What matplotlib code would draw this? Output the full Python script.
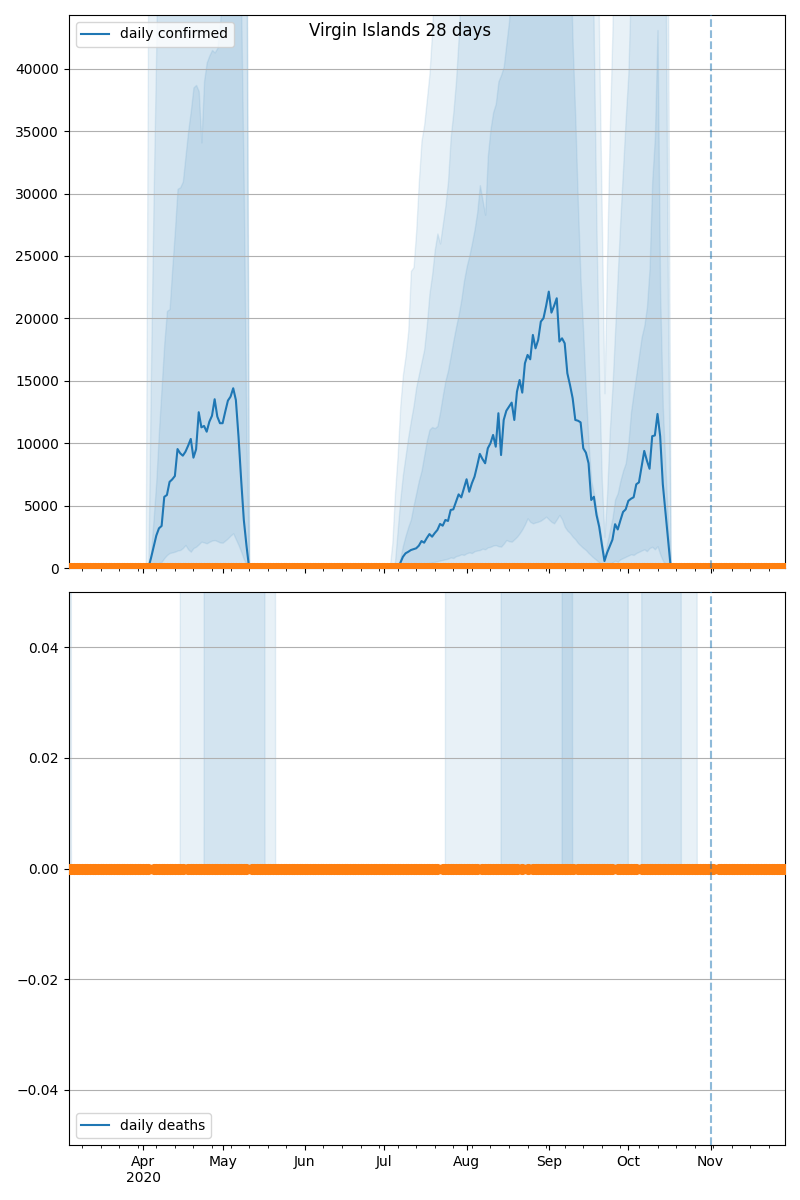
import numpy as np
import pandas as pd
import matplotlib
matplotlib.use("Agg")
import matplotlib.pyplot as plt
import matplotlib.dates as mdates
from matplotlib.ticker import FuncFormatter

title = "Virgin Islands 28 days"
start_day, end_day = "2020-03-04", "2020-11-29"
cutoff_day = "2020-11-01"

# --- first wave, daily from 2020-04-01 to 2020-05-12 ---
w1_start = "2020-04-01"
w1_median = [0, 0, 0, 800, 1700, 2600, 3180, 3370, 5700, 5850,           # Apr 1-10
             6900, 7100, 7370, 9530, 9190, 9000, 9320, 9800, 10340, 8840,   # Apr 11-20
             9510, 12480, 11270, 11380, 10920, 11720, 12200, 13520, 12130, 11600,  # Apr 21-30
             11600, 12530, 13410, 13730, 14400, 13460, 10520, 7050, 3850, 1800, 0, 0]  # May 1-12
w1_outer_hi = [0, 0, 50000, 60000, 60000, 60000, 60000, 60000, 60000, 60000,
               60000, 60000, 60000, 60000, 60000, 60000, 60000, 60000, 60000, 60000,
               60000, 60000, 60000, 60000, 60000, 60000, 60000, 60000, 60000, 60000,
               60000, 60000, 60000, 60000, 60000, 60000, 60000, 60000, 60000, 60000, 0, 0]
w1_mid_hi = [0, 0, 0, 16000, 30000, 42000, 60000, 60000, 60000, 60000,
             60000, 60000, 60000, 60000, 60000, 60000, 60000, 60000, 60000, 60000,
             60000, 60000, 60000, 60000, 60000, 60000, 60000, 60000, 60000, 60000,
             60000, 60000, 60000, 60000, 60000, 60000, 60000, 60000, 60000, 50000, 0, 0]
w1_inner_hi = [0, 0, 0, 1200, 4000, 7000, 11000, 14500, 18000, 20600,
               20750, 24000, 27000, 30380, 30500, 30970, 33000, 35000, 36620, 38500,
               38700, 38200, 34090, 39000, 40500, 41060, 41500, 41300, 41660, 43500,
               47000, 52000, 60000, 60000, 60000, 60000, 55000, 45000, 30000, 10000, 0, 0]
w1_inner_lo = [0, 0, 0, 100, 200, 300, 400, 500, 800, 1040,
               1200, 1250, 1310, 1400, 1440, 1600, 1840, 1500, 1310, 1600,
               1710, 1900, 2110, 2050, 1980, 2100, 2200, 2240, 2150, 2050,
               2030, 2200, 2380, 2600, 2780, 2300, 1840, 1300, 700, 300, 0, 0]

# --- second and third wave, daily from 2020-07-03 to 2020-10-19 ---
w2_start = "2020-07-03"
w2_median = (
    [0, 0, 0, 0, 400, 900, 1180, 1300, 1440, 1510, 1580, 1790, 2160, 2030, 2400,
     2720, 2510, 2800, 3050, 3530, 3390, 3850, 3770, 4650, 4700, 5300, 5900, 5660, 6390]  # Jul 3-31
    + [7110, 6110, 6790, 7320, 8200, 9140, 8730, 8390, 9590, 9990, 10660, 9720, 12400, 9050, 11860,
       12600, 12930, 13250, 11860, 14130, 15060, 14050, 16400, 17070, 16720, 18670, 17600, 18270,
       19740, 20010, 21000]  # Aug
    + [22140, 20460, 21000, 21610, 18140, 18400, 18000, 15600, 14660, 13600, 11860, 11800, 11670,
       9590, 9240, 8390, 5450, 5710, 4250, 3310, 1900, 560, 1230, 1750, 2270, 3510, 3090, 3810,
       4490, 4700]  # Sep
    + [5380, 5550, 5670, 6710, 6860, 8100, 9380, 8600, 7950, 10560, 10620, 12340, 10560, 6710,
       4500, 2200, 0, 0, 0]  # Oct 1-19
)
w2_outer_hi = (
    [0, 2000, 6000, 9000, 13000, 15500, 17000, 19000, 23800, 24100, 27000, 31000, 34240, 35500,
     37500, 39580, 43000, 48000, 60000, 60000, 60000, 60000, 60000, 60000, 60000, 60000, 60000,
     60000, 60000]
    + [60000] * 31
    + [60000] * 19 + [42000, 28000, 14000, 25000, 35000, 43000, 60000, 60000, 60000, 60000, 60000]
    + [60000] * 15 + [45000, 0, 0, 0]
)
w2_mid_hi = (
    [0, 0, 500, 3000, 5500, 7500, 9000, 10500, 11800, 13000, 14500, 15500, 16500, 17500, 19500,
     22000, 23500, 25500, 26800, 26000, 27500, 29000, 31000, 34500, 36500, 39000, 42500, 47000, 60000]
    + [60000] * 31
    + [60000] * 17 + [42000, 27000, 15000, 7000, 2500, 6000, 11000, 14500, 19000, 23500, 28000,
                      32000, 36000]
    + [39600, 47000] + [60000] * 12 + [50000, 20000, 0, 0, 0]
)
w2_inner_hi = (
    [0, 0, 0, 0, 800, 1800, 2600, 3300, 3900, 5000, 6000, 7000, 7800, 9000, 10200, 11090, 11300,
     11200, 11390, 12500, 13800, 15000, 15830, 17000, 18200, 19300, 20290, 21500, 23000]
    + [24140, 25000, 26000, 27120, 28500, 30670, 29500, 28300, 33000, 35130, 36500, 37200, 38980,
       39500, 40170, 42000, 43800, 47000] + [60000] * 13
    + [60000] * 8 + [50000, 42000, 36000, 29000, 23000, 18800, 14000, 10000, 7000, 6000, 4600,
                     3600, 2200, 800, 2000, 3000, 4000, 5500, 6000, 7000, 7800, 8400]
    + [10000, 12500, 14050, 15500, 17000, 18500, 19400, 20900, 24000, 31000, 34500, 43100, 22000,
       12900, 8000, 3500, 0, 0, 0]
)
w2_inner_lo = (
    [0, 0, 0, 0, 0, 0, 0, 0, 50, 100, 150, 200, 250, 300, 350, 400, 450, 500, 550, 600, 650, 700,
     750, 850, 800, 950, 1000, 1100, 1050]
    + [1180, 1250, 1200, 1350, 1400, 1440, 1550, 1500, 1650, 1700, 1800, 1840, 1750, 1710, 1950,
       2240, 2150, 2110, 2300, 2500, 2780, 3100, 3500, 3980, 3700, 3580, 3650, 3710, 3800, 3950, 4110]
    + [3900, 3700, 3580, 3900, 4250, 3900, 3310, 3000, 2800, 2510, 2300, 2000, 1800, 1600, 1440,
       1200, 1000, 800, 640, 450, 300, 150, 200, 300, 450, 600, 500, 700, 800, 900]
    + [1000, 1100, 1050, 1200, 1300, 1400, 1500, 1350, 1600, 1700, 1500, 1750, 1100, 600, 300,
       100, 0, 0, 0]
)

# deaths: days on which the upper quantiles reach one death
death_outer_days = [("2020-03-04", "2020-03-04"), ("2020-04-16", "2020-05-20"),
                    ("2020-07-25", "2020-10-26")]
death_mid_days = [("2020-04-25", "2020-05-16"), ("2020-08-15", "2020-09-30"),
                  ("2020-10-07", "2020-10-20")]
death_inner_days = [("2020-09-07", "2020-09-09")]
death_band_value = 1

# observed values (all zero), days without a deaths report
observed_confirmed = 0
observed_deaths = 0
deaths_missing = ["2020-04-04", "2020-04-17", "2020-05-11", "2020-07-22", "2020-08-06",
                  "2020-08-21", "2020-08-23", "2020-08-25", "2020-09-11", "2020-09-26",
                  "2020-10-05", "2020-11-03"]

dates = pd.date_range(start_day, end_day, freq="D")


def on_grid(parts):
    s = pd.Series(0.0, index=dates)
    for seg_start, values in parts:
        idx = pd.date_range(seg_start, periods=len(values), freq="D")
        s.loc[idx] = values
    return s


def from_ranges(ranges, value):
    s = pd.Series(0.0, index=dates)
    for a, b in ranges:
        s.loc[a:b] = value
    return s


conf_med = on_grid([(w1_start, w1_median), (w2_start, w2_median)])
conf_outer = on_grid([(w1_start, w1_outer_hi), (w2_start, w2_outer_hi)])
conf_mid = on_grid([(w1_start, w1_mid_hi), (w2_start, w2_mid_hi)])
conf_inner_hi = on_grid([(w1_start, w1_inner_hi), (w2_start, w2_inner_hi)])
conf_inner_lo = on_grid([(w1_start, w1_inner_lo), (w2_start, w2_inner_lo)])

d_outer = from_ranges(death_outer_days, death_band_value)
d_mid = from_ranges(death_mid_days, death_band_value)
d_inner = from_ranges(death_inner_days, death_band_value)
d_med = pd.Series(0.0, index=dates)

obs_c = pd.Series(float(observed_confirmed), index=dates)
obs_d = pd.Series(float(observed_deaths), index=dates).drop(pd.to_datetime(deaths_missing))

fig, (ax1, ax2) = plt.subplots(2, 1, figsize=(8, 12), dpi=100, sharex=True)
fig.subplots_adjust(left=0.086, right=0.981, top=0.9875, bottom=0.0458, hspace=0.0434)

# confirmed
ax1.fill_between(dates, 0, conf_outer, color="C0", alpha=0.1)
ax1.fill_between(dates, 0, conf_mid, color="C0", alpha=0.1)
ax1.fill_between(dates, conf_inner_lo, conf_inner_hi, color="C0", alpha=0.1)
ax1.plot(dates, conf_med, color="C0", label="daily confirmed")
ax1.plot(obs_c.index, obs_c.values, "o", ls="none", color="C1", ms=7, zorder=3)
ax1.axvline(pd.Timestamp(cutoff_day), ls="--", color="C0", alpha=0.5, zorder=4)
ax1.set_ylim(0, 44300)
ax1.grid(axis="y")
ax1.legend(loc="upper left")

# deaths
ax2.fill_between(dates, 0, d_outer, color="C0", alpha=0.1)
ax2.fill_between(dates, 0, d_mid, color="C0", alpha=0.1)
ax2.fill_between(dates, 0, d_inner, color="C0", alpha=0.1)
ax2.plot(dates, d_med, color="C0", label="daily deaths")
ax2.plot(obs_d.index, obs_d.values, "o", ls="none", color="C1", ms=7, zorder=3)
ax2.axvline(pd.Timestamp(cutoff_day), ls="--", color="C0", alpha=0.5, zorder=4)
ax2.set_ylim(-0.05, 0.05)
ax2.grid(axis="y")
ax2.legend(loc="lower left")

ax2.set_xlim(dates[0], dates[-1])
ax2.xaxis.set_major_locator(mdates.MonthLocator())
ax2.xaxis.set_minor_locator(mdates.WeekdayLocator(byweekday=mdates.MO))
first_month = (dates[0] + pd.offsets.MonthBegin(1)).month


def month_label(x, pos=None):
    d = mdates.num2date(x)
    lab = d.strftime("%b")
    if d.month == first_month:
        lab += "\n" + d.strftime("%Y")
    return lab


ax2.xaxis.set_major_formatter(FuncFormatter(month_label))
for lab in ax2.get_xticklabels():
    lab.set_ha("center")

fig.suptitle(title, y=0.982)
fig.savefig("out.png", dpi=100)
